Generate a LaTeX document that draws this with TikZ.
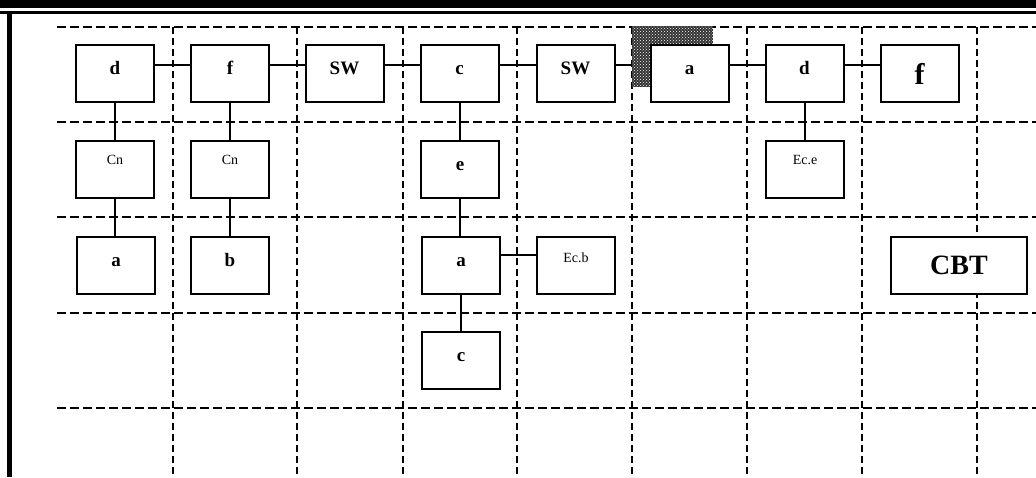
\documentclass[tikz,border=0pt]{standalone}
\usepackage{fontspec}
\setmainfont{Liberation Serif}
\usetikzlibrary{patterns}
\pgfdeclarelayer{back}
\pgfdeclarelayer{mid}
\pgfsetlayers{back,mid,main}
\begin{document}
\begin{tikzpicture}[x=1pt,y=-1pt,
  hline/.style={line width=1.6pt, dash pattern=on 9pt off 4pt},
  vline/.style={line width=1.6pt, dash pattern=on 7pt off 4pt},
  wire/.style={line width=2pt},
  bigbox/.style={draw, line width=2pt, fill=white, inner sep=0pt,
    minimum width=78pt, minimum height=57pt,
    font=\fontsize{19}{19}\selectfont\bfseries, text height=12pt, text depth=10pt},
  smallbox/.style={bigbox, font=\fontsize{14}{14}\selectfont, text height=10pt, text depth=19pt},
]
\useasboundingbox (0,0) rectangle (1036,477);
\begin{pgfonlayer}{back}
\fill[white] (0,0) rectangle (1036,477);
\fill[black] (0,0) rectangle (1036,8);
\fill[black] (0,10.5) rectangle (1036,14);
\fill[black] (6.5,14) rectangle (12,477);
\foreach \yy in {27,122,217,313,408} \draw[hline] (57,\yy) -- (1036,\yy);
\foreach \xx in {173,297,403,517,632,747,862,977} \draw[vline] (\xx,27) -- (\xx,477);
\end{pgfonlayer}
\begin{pgfonlayer}{mid}
\fill[black!80] (632,26) rectangle (713,87);
\fill[pattern=crosshatch dots, pattern color=white] (632,26) rectangle (713,87);
\end{pgfonlayer}
% row 1
\node[bigbox] (d1) at (115,73.5) {d};
\node[bigbox] (f1) at (230,73.5) {f};
\node[bigbox] (sw1) at (344.5,73.5) {SW};
\node[bigbox] (c1) at (459.5,73.5) {c};
\node[bigbox] (sw2) at (575.5,73.5) {SW};
\node[bigbox] (a1) at (689.5,73.5) {a};
\node[bigbox] (d2) at (804.5,73.5) {d};
\node[bigbox, font=\fontsize{30}{30}\selectfont\bfseries, text height=21pt, text depth=0pt] (f2) at (919.5,73.5) {f};
% row 2
\node[smallbox] (cn1) at (115,169) {Cn};
\node[smallbox] (cn2) at (230,169) {Cn};
\node[bigbox] (e) at (460,169) {e};
\node[smallbox] (ece) at (805,169) {Ec.e};
% row 3
\node[bigbox] (a2) at (116,265) {a};
\node[bigbox] (b) at (230,265) {b};
\node[bigbox] (a3) at (461,265) {a};
\node[smallbox, text depth=16pt] (ecb) at (576,265) {Ec.b};
\node[bigbox, minimum width=136pt, font=\fontsize{28}{28}\selectfont\bfseries, text height=19pt, text depth=0pt] (cbt) at (959,265) {CBT};
% row 4
\node[bigbox] (c2) at (461,360) {c};
\begin{pgfonlayer}{back}
\draw[wire] ([yshift=8.5pt]d1.east) -- ([yshift=8.5pt]f1.west);
\draw[wire] ([yshift=8.5pt]f1.east) -- ([yshift=8.5pt]sw1.west);
\draw[wire] ([yshift=8.5pt]sw1.east) -- ([yshift=8.5pt]c1.west);
\draw[wire] ([yshift=8.5pt]c1.east) -- ([yshift=8.5pt]sw2.west);
\draw[wire] ([yshift=8.5pt]sw2.east) -- ([yshift=8.5pt]a1.west);
\draw[wire] ([yshift=8.5pt]a1.east) -- ([yshift=8.5pt]d2.west);
\draw[wire] ([yshift=8.5pt]d2.east) -- ([yshift=8.5pt]f2.west);
\draw[wire] (d1.south) -- (cn1.north);
\draw[wire] (cn1.south) -- (cn1.south |- a2.north);
\draw[wire] (f1.south) -- (cn2.north);
\draw[wire] (cn2.south) -- (b.north);
\draw[wire] (e.north) -- (e.north |- c1.south);
\draw[wire] (e.south) -- (e.south |- a3.north);
\draw[wire] (a3.south) -- (c2.north);
\draw[wire] (ece.north) -- (ece.north |- d2.south);
\draw[wire] ([yshift=10pt]a3.east) -- ([yshift=10pt]ecb.west);
\end{pgfonlayer}
\end{tikzpicture}
\end{document}
